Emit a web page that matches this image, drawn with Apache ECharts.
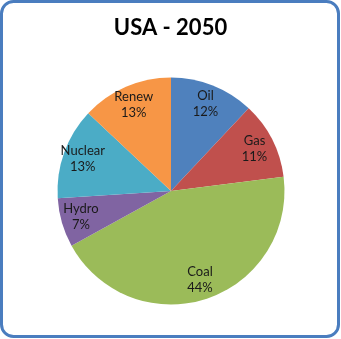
<!DOCTYPE html>
<html>
<head>
<meta charset="utf-8">
<script src="https://cdn.jsdelivr.net/npm/echarts@6/dist/echarts.min.js"></script>
<style>
html,body{margin:0;padding:0;background:#fff;}
#chart{width:341px;height:339px;}
</style>
</head>
<body>
<div id="chart"></div>
<script>
const categories = ['Oil', 'Gas', 'Coal', 'Hydro', 'Nuclear', 'Renew'];
const values = [12, 11, 44, 7, 13, 13];
const colors = ['#4F81BD', '#C0504D', '#9BBB59', '#8064A2', '#4BACC6', '#F79646'];
const titleText = 'USA - 2050';

const pieData = categories.map((c, i) => ({ name: c, value: values[i], itemStyle: { color: colors[i] } }));
const labelData = categories.map((c, i) => ({ name: c, value: values[i] }));

const chart = echarts.init(document.getElementById('chart'), null, { renderer: 'canvas' });
chart.setOption({
  animation: false,
  backgroundColor: '#ffffff',
  title: {
    text: titleText,
    left: 'center',
    top: 12,
    textStyle: { fontFamily: 'Lato', fontWeight: 'bold', fontSize: 22, color: '#000' }
  },
  graphic: [{
    type: 'rect',
    shape: { x: 1.5, y: 1.5, width: 337, height: 335, r: 12 },
    style: { fill: 'none', stroke: '#4A7DBF', lineWidth: 3 },
    z: 100
  }],
  series: [
    {
      type: 'pie',
      center: [171, 191],
      radius: [0, 113.5],
      startAngle: 90,
      clockwise: true,
      label: { show: false },
      labelLine: { show: false },
      itemStyle: { borderWidth: 0 },
      emphasis: { disabled: true },
      data: pieData
    },
    {
      type: 'pie',
      center: [171, 191],
      radius: [68, 113.5],
      startAngle: 90,
      clockwise: true,
      silent: true,
      itemStyle: { color: 'rgba(0,0,0,0)', borderWidth: 0 },
      label: {
        show: true,
        position: 'inside',
        formatter: (p) => p.name + '\n' + p.value + '%',
        fontFamily: 'Lato',
        fontSize: 13,
        lineHeight: 16,
        color: '#1a1a1a'
      },
      labelLine: { show: false },
      emphasis: { disabled: true },
      data: labelData
    }
  ]
});
</script>
</body>
</html>
